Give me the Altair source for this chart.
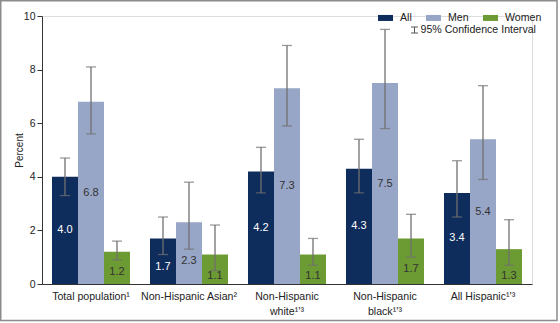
import altair as alt
import pandas as pd

groups = ["Total population¹", "Non-Hispanic Asian²", "Non-Hispanic|white¹ʼ³",
          "Non-Hispanic|black¹ʼ³", "All Hispanic¹ʼ³"]
series = ["All", "Men", "Women"]

all_vals = [4.0, 1.7, 4.2, 4.3, 3.4]
men_vals = [6.8, 2.3, 7.3, 7.5, 5.4]
women_vals = [1.2, 1.1, 1.1, 1.7, 1.3]

all_lo = [3.3, 1.1, 3.4, 3.4, 2.5]
all_hi = [4.7, 2.5, 5.1, 5.4, 4.6]
men_lo = [5.6, 1.3, 5.9, 5.8, 3.9]
men_hi = [8.1, 3.8, 8.9, 9.5, 7.4]
women_lo = [0.9, 0.5, 0.7, 1.0, 0.7]
women_hi = [1.6, 2.2, 1.7, 2.6, 2.4]

colors = ["#0e2c5c", "#97a5c6", "#6c9a33"]

rows = []
for s, vals, lo, hi in [("All", all_vals, all_lo, all_hi),
                        ("Men", men_vals, men_lo, men_hi),
                        ("Women", women_vals, women_lo, women_hi)]:
    for g, v, l, h in zip(groups, vals, lo, hi):
        rows.append({"group": g, "series": s, "value": v, "lo": l, "hi": h})
df = pd.DataFrame(rows)

FONT = "Liberation Sans"
ERR = "#707070"

x_enc = alt.X("group:N", sort=groups,
              scale=alt.Scale(paddingInner=0.204, paddingOuter=0.102),
              axis=alt.Axis(title=None, labelExpr="split(datum.label, '|')", ticks=False,
                            labelAngle=0, domainColor="#333", labelPadding=7,
                            labelFontSize=10.6, labelLineHeight=15, labelColor="#222",
                            labelFont=FONT))
xo_enc = alt.XOffset("series:N", sort=series, scale=alt.Scale(paddingInner=0, paddingOuter=0))

base = alt.Chart(df)

bars = base.mark_bar().encode(
    x=x_enc,
    xOffset=xo_enc,
    y=alt.Y("value:Q", scale=alt.Scale(domain=[0, 10], nice=False),
            axis=alt.Axis(values=[0, 2, 4, 6, 8, 10], grid=False, title="Percent",
                          tickSize=5, tickColor="#333", domainColor="#333",
                          labelFontSize=10.5, labelColor="#222", labelFont=FONT,
                          labelPadding=2, titleFont=FONT, titleFontSize=10,
                          titleFontWeight="normal", titleColor="#222", titlePadding=-1)),
    color=alt.Color("series:N", sort=series,
                    scale=alt.Scale(domain=series, range=colors),
                    legend=alt.Legend(title=None, orient="none", legendX=336, legendY=-6,
                                      direction="horizontal", columns=3,
                                      symbolType="M-1,-0.4L1,-0.4L1,0.4L-1,0.4Z",
                                      symbolSize=225, symbolStrokeWidth=0,
                                      labelFontSize=10.6, labelFont=FONT, labelOffset=7,
                                      columnPadding=14, padding=0, labelColor="#222")),
)

rules = base.mark_rule(color=ERR, strokeWidth=1.3).encode(
    x=x_enc, xOffset=xo_enc, y="lo:Q", y2="hi:Q")
cap_lo = base.mark_tick(color=ERR, size=10, thickness=1.3, orient="horizontal").encode(
    x=x_enc, xOffset=xo_enc, y="lo:Q")
cap_hi = base.mark_tick(color=ERR, size=10, thickness=1.3, orient="horizontal").encode(
    x=x_enc, xOffset=xo_enc, y="hi:Q")

labels = base.transform_calculate(
    label_y="max(0.3, min(datum.value / 2, datum.lo - 0.45))"
).mark_text(fontSize=11, font=FONT, baseline="middle").encode(
    x=x_enc, xOffset=xo_enc,
    y=alt.Y("label_y:Q"),
    text=alt.Text("value:Q", format=".1f"),
    color=alt.condition("datum.series == 'All'", alt.value("white"), alt.value("#333")),
)

one = pd.DataFrame({"k": [0]})
sym_v = alt.Chart(one).mark_rule(color="#555", strokeWidth=1).encode(
    x=alt.value(372.5), y=alt.value(11), y2=alt.value(17))
sym_t = alt.Chart(one).mark_rule(color="#555", strokeWidth=1).encode(
    x=alt.value(369), x2=alt.value(376), y=alt.value(11))
sym_b = alt.Chart(one).mark_rule(color="#555", strokeWidth=1).encode(
    x=alt.value(369), x2=alt.value(376), y=alt.value(17))
ci_txt = alt.Chart(one).mark_text(text="95% Confidence Interval", font=FONT, fontSize=10.6,
                                  align="left", baseline="middle", color="#222").encode(
    x=alt.value(378.5), y=alt.value(14))
frame = alt.Chart(one).mark_rect(fill="transparent", stroke="#8c8c8c", strokeWidth=1.5).encode(
    x=alt.value(-41.25), x2=alt.value(515), y=alt.value(-15.25), y2=alt.value(304.5))

chart = alt.layer(bars, rules, cap_lo, cap_hi, labels, sym_v, sym_t, sym_b, ci_txt, frame).properties(
    width=490, height=268,
    autosize=alt.AutoSizeParams(type="none"),
    padding={"left": 42, "top": 16, "right": 28, "bottom": 39},
).configure_view(stroke=None).configure(font=FONT)

chart.save("out.html", embed_options={"renderer": "svg", "actions": False})
